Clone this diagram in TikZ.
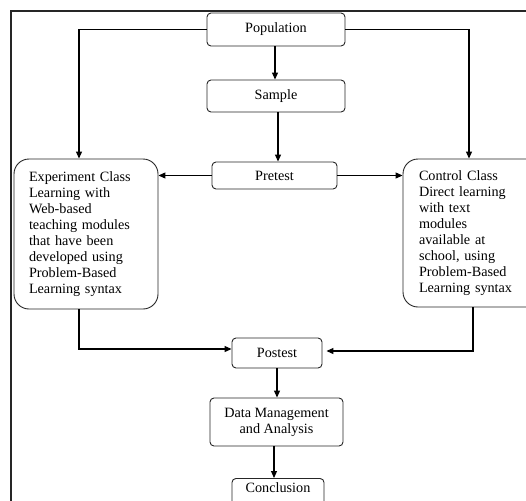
\documentclass[tikz,border=0pt]{standalone}
\usepackage{fontspec}
\setmainfont{Liberation Serif}
\usetikzlibrary{arrows.meta}
\begin{document}
\begin{tikzpicture}[x=1pt,y=-1pt,
  every node/.style={font=\fontsize{14.2pt}{15.9pt}\selectfont},
  smallbox/.style={draw=black!85, line width=0.9pt, rounded corners=4pt, inner sep=0pt, align=center},
  bigbox/.style={draw=black!85, line width=0.9pt, rounded corners=15pt, inner xsep=15pt, inner ysep=0pt, align=left, text width=114pt, minimum width=144pt},
  arr/.style={line width=1.1pt, -{Triangle[length=7pt,width=6pt]}},
  frame/.style={line width=1.4pt, draw=black!85}]
\useasboundingbox (0,0) rectangle (526,500);
\draw[frame] (11,520) -- (11,11) -- (540,11);

\node[smallbox, minimum width=138pt, minimum height=33pt] (pop) at (276,29.5) {Population};
\node[smallbox, minimum width=138pt, minimum height=32pt] (sample) at (276,96) {Sample};
\node[smallbox, minimum width=125pt, minimum height=27pt] (pre) at (274.5,175.5) {Pretest};
\node[bigbox, minimum height=150pt] (exper) at (86,234) {Experiment Class\\Learning with\\Web-based\\teaching modules\\that have been\\developed using\\Problem-Based\\Learning syntax};
\node[bigbox, minimum height=148pt, inner xsep=16pt] (ctrl) at (476,233) {Control Class\\Direct learning\\with text\\modules\\available at\\school, using\\Problem-Based\\Learning syntax};
\node[smallbox, minimum width=90pt, minimum height=30pt] (post) at (277,353) {Postest};
\node[smallbox, minimum width=133pt, minimum height=48pt] (data) at (276.5,422) {Data Management\\and Analysis};
\node[smallbox, minimum width=92pt, anchor=north, inner ysep=4pt, text height=9.7pt, text depth=20pt] (concl) at (278,478) {Conclusion};

\draw[arr] (pop.west) -| ([xshift=-7pt]exper.north);
\draw[arr] (pop.east) -| ([xshift=-7pt]ctrl.north);
\draw[arr] ([xshift=-1pt]pop.south) -- ([xshift=-1pt]sample.north);
\draw[arr] ([xshift=2pt]sample.south) -- ([xshift=2pt]sample.south |- pre.north);
\draw[arr] (pre.west) -- (pre.west -| exper.east);
\draw[arr] (pre.east) -- (pre.east -| ctrl.west);
\draw[arr] ([xshift=-7pt]exper.south) |- ([yshift=4pt]post.west);
\draw[arr, shorten >=4pt] ([xshift=-3pt]ctrl.south) |- ([yshift=2pt]post.east);
\draw[arr] (post.south) -- (post.south |- data.north);
\draw[arr] ([xshift=-2.5pt]data.south) -- ([xshift=-2.5pt]data.south |- concl.north);
\end{tikzpicture}
\end{document}
